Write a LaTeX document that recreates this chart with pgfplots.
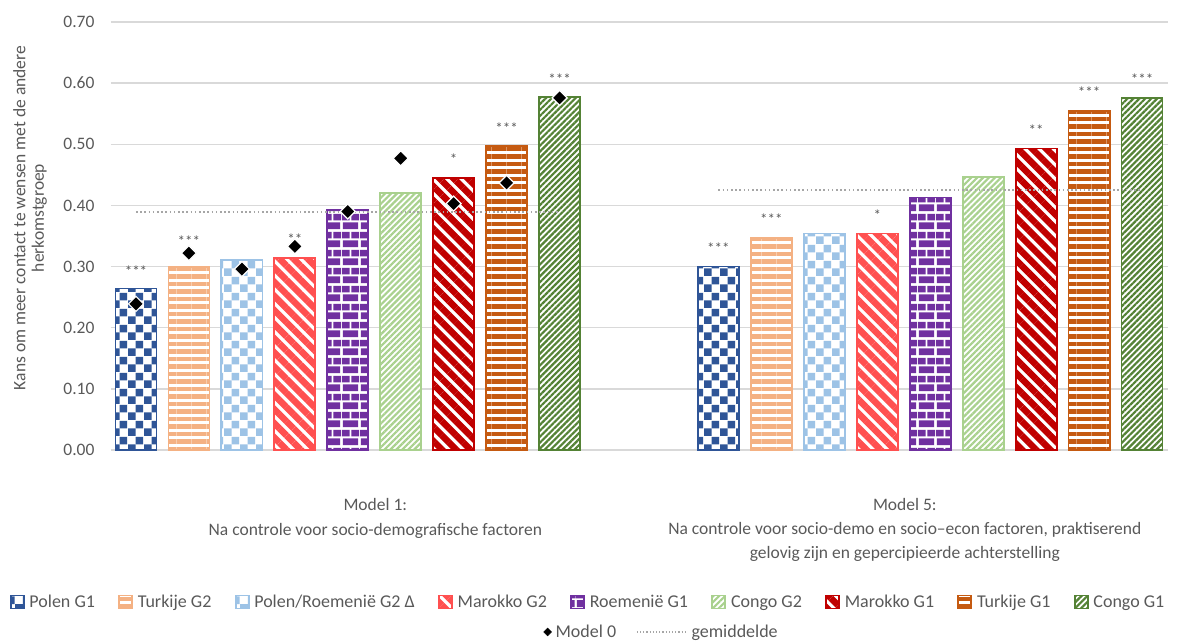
\documentclass[border=0pt]{standalone}
\usepackage{fontspec}
\setmainfont{Carlito}
\usepackage{pgfplots}
\pgfplotsset{compat=1.18}
\usetikzlibrary{patterns,patterns.meta}

\definecolor{c1}{HTML}{2F5597}
\definecolor{c2}{HTML}{F4B183}
\definecolor{c3}{HTML}{9DC3E6}
\definecolor{c4}{HTML}{FF5050}
\definecolor{c5}{HTML}{7030A0}
\definecolor{c6}{HTML}{A9D18E}
\definecolor{c7}{HTML}{C00000}
\definecolor{c8}{HTML}{C55A11}
\definecolor{c9}{HTML}{548235}
\definecolor{textgray}{HTML}{595959}
\definecolor{gridgray}{HTML}{D9D9D9}
\definecolor{avggray}{HTML}{A6A6A6}

\tikzdeclarepattern{
  name=checker, type=uncolored,
  bounding box={(0pt,0pt) and (16pt,16pt)},
  tile size={(16pt,16pt)},
  code={
    \fill (0pt,0pt) rectangle (8pt,8pt);
    \fill (8pt,8pt) rectangle (16pt,16pt);
  }
}
\tikzdeclarepattern{
  name=mybricks, type=uncolored,
  bounding box={(0pt,0pt) and (18pt,18pt)},
  tile size={(18pt,18pt)},
  code={
    \fill (1pt,1pt) rectangle (17pt,8pt);
    \fill (0pt,10pt) rectangle (8pt,17pt);
    \fill (10pt,10pt) rectangle (18pt,17pt);
  }
}

\pgfplotsset{
  mybar/.style={ybar, bar width=0.775, bar shift=0pt, line width=1.8pt,
    preaction={fill=white},
    legend image code/.code={\draw[##1, line width=1.4pt] (0pt,-6.5pt) rectangle (13pt,6.5pt);}},
  avglegend/.style={legend image code/.code={\draw[##1, line width=1.3pt, dash pattern=on 1.2pt off 2pt] (0pt,0pt) -- (50pt,0pt);}},
}

\begin{document}
\begin{tikzpicture}
\begin{axis}[
  at={(0pt,0pt)}, anchor=south west,
  scale only axis, width=1057pt, height=428pt,
  xmin=0.528, xmax=20.49, ymin=0, ymax=0.7,
  axis line style={draw=none},
  xtick=\empty,
  ytick={0,0.1,0.2,0.3,0.4,0.5,0.6,0.7},
  ymajorgrids, grid style={draw=gridgray, line width=1.3pt},
  major tick length=0pt,
  yticklabel style={xshift=-13pt, /pgf/number format/.cd, fixed, fixed zerofill, precision=2, assume math mode=true},
  tick label style={font=\fontsize{17.5}{20}\selectfont, text=textgray},
  clip=false,
  legend columns=9,
  legend style={draw=none, fill=none, at={(0.4515,-0.355)}, anchor=center,
    font=\fontsize{18}{21}\selectfont, text=textgray,
    /tikz/every odd column/.append style={column sep=3pt},
    /tikz/every even column/.append style={column sep=21.5pt}},
]
\addplot[mybar, draw=c1, pattern=checker, pattern color=c1] coordinates {(1,0.264) (12,0.300)};
\addlegendentry{Polen G1}
\addplot[mybar, draw=c2, pattern={Lines[angle=0,distance=7.5pt,line width=4.5pt]}, pattern color=c2] coordinates {(2,0.299) (13,0.347)};
\addlegendentry{Turkije G2}
\addplot[mybar, draw=c3, pattern=checker, pattern color=c3] coordinates {(3,0.311) (14,0.354)};
\addlegendentry{Polen/Roemenië G2 Δ}
\addplot[mybar, draw=c4, pattern={Lines[angle=-45,distance=10pt,line width=6.5pt]}, pattern color=c4] coordinates {(4,0.314) (15,0.354)};
\addlegendentry{Marokko G2}
\addplot[mybar, draw=c5, pattern=mybricks, pattern color=c5] coordinates {(5,0.392) (16,0.413)};
\addlegendentry{Roemenië G1}
\addplot[mybar, draw=c6, pattern={Lines[angle=45,distance=4.2pt,line width=2.2pt]}, pattern color=c6] coordinates {(6,0.420) (17,0.446)};
\addlegendentry{Congo G2}
\addplot[mybar, draw=c7, pattern={Lines[angle=-45,distance=10pt,line width=6.5pt]}, pattern color=c7] coordinates {(7,0.445) (18,0.493)};
\addlegendentry{Marokko G1}
\addplot[mybar, draw=c8, pattern={Lines[angle=0,distance=7.5pt,line width=4.5pt]}, pattern color=c8] coordinates {(8,0.497) (19,0.554)};
\addlegendentry{Turkije G1}
\addplot[mybar, draw=c9, pattern={Lines[angle=45,distance=4.2pt,line width=2.2pt]}, pattern color=c9] coordinates {(9,0.577) (20,0.576)};
\addlegendentry{Congo G1}

% significance stars
\begin{scope}[every node/.style={font=\fontsize{15}{16}\selectfont, text=textgray, anchor=center}]
\node at (axis cs:1,0.293) {***};
\node at (axis cs:2,0.3415) {***};
\node at (axis cs:4,0.345) {**};
\node at (axis cs:7,0.475) {*};
\node at (axis cs:8,0.526) {***};
\node at (axis cs:9,0.607) {***};
\node at (axis cs:12,0.330) {***};
\node at (axis cs:13,0.3775) {***};
\node at (axis cs:15,0.384) {*};
\node at (axis cs:18,0.5225) {**};
\node at (axis cs:19,0.585) {***};
\node at (axis cs:20,0.607) {***};
\end{scope}

% category labels
\node[font=\fontsize{17.5}{25}\selectfont, text=textgray, align=center, anchor=north] at (axis cs:5.52,0) [yshift=-45pt]
  {Model 1:\\Na controle voor socio-demografische factoren};
\node[font=\fontsize{17.5}{24}\selectfont, text=textgray, align=center, anchor=north] at (axis cs:15.52,0) [yshift=-45pt]
  {Model 5:\\Na controle voor socio-demo en socio–econ factoren, praktiserend\\gelovig zijn en gepercipieerde achterstelling};
\end{axis}

\begin{axis}[
  at={(0pt,0pt)}, anchor=south west,
  scale only axis, width=1057pt, height=428pt,
  xmin=0.528, xmax=20.49, ymin=0, ymax=0.7,
  hide axis, clip=false,
  legend columns=2,
  legend style={draw=none, fill=none, at={(0.521,-0.425)}, anchor=center,
    font=\fontsize{18}{21}\selectfont, text=textgray,
    /tikz/every odd column/.append style={column sep=2pt},
    /tikz/every even column/.append style={column sep=18pt}},
]
\addlegendimage{only marks, mark=square*, mark size=2.8pt, mark options={rotate=45, fill=black, draw=black}}
\addlegendentry{Model 0}
\addplot[avggray, line width=2pt, dash pattern=on 1.6pt off 2.6pt, avglegend]
  coordinates {(1,0.390) (9,0.390)};
\addlegendentry{gemiddelde}
\addplot[avggray, line width=2pt, dash pattern=on 1.6pt off 2.6pt, forget plot]
  coordinates {(12,0.426) (20,0.426)};
\addplot[only marks, mark=square*, mark size=5.3pt, mark options={rotate=45, fill=black, draw=white, line width=1.2pt}, forget plot]
  coordinates {(1,0.239) (2,0.322) (3,0.296) (4,0.333) (5,0.390) (6,0.477) (7,0.403) (8,0.437) (9,0.576)};
\end{axis}

\node[rotate=90, align=center, font=\fontsize{17.5}{18.5}\selectfont, text=textgray] at (-81pt,232pt)
  {Kans om meer contact te wensen met de andere\\herkomstgroep};

\pgfresetboundingbox
\path[use as bounding box] (-111pt,-194pt) rectangle (1067pt,450pt);
\end{tikzpicture}
\end{document}
